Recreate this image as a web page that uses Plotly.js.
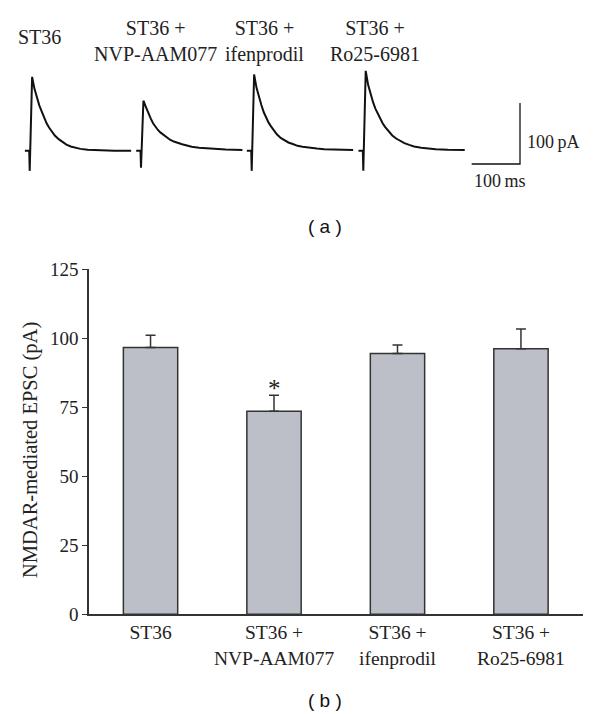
<!DOCTYPE html>
<html>
<head>
<meta charset="utf-8">
<script src="https://cdn.plot.ly/plotly-3.0.1.min.js"></script>
<style>
  html, body { margin: 0; padding: 0; background: #fff; }
  #chart { width: 600px; height: 714px; }
</style>
</head>
<body>
<div id="chart"></div>
<script>
const categories = ['ST36', 'ST36 +<br>NVP-AAM077', 'ST36 +<br>ifenprodil', 'ST36 +<br>Ro25-6981'];
const epscMean = [96.7, 73.6, 94.5, 96.2];
const epscSem = [4.4, 5.8, 3.1, 7.2];
const significant = [false, true, false, false];

// example traces: ms from stimulus, pA above baseline
const traceTime = [-10, -1, 0, 5, 10, 15, 20, 25, 30, 35, 40, 45, 52, 60, 68, 76, 85, 95, 105, 120, 135, 150, 175, 210];
const traceSt36 = [0, 0, -33, 121, 101, 86, 74, 64, 54, 45, 38, 32, 25, 19, 14, 10, 7, 4.5, 3, 1.5, 1, 0.5, 0, 0];
const traceNvp = [0, 0, -28, 82, 72, 61, 53, 45, 39, 34, 30, 27, 22, 18, 15, 12.5, 10.5, 8.5, 6.5, 5, 4, 3, 2, 1];
const traceIfen = [0, 0, -33, 125, 103, 87, 75, 63, 54, 46, 40, 34, 27, 21, 17, 13.5, 11, 8, 6.5, 4.5, 3.5, 2.5, 1.5, 1];
const traceRo = [0, 0, -33, 131, 108, 93, 80, 69, 60, 52, 45, 39, 32, 25, 20, 16, 12.5, 9.5, 7, 5, 3.5, 2.5, 1.5, 1];
const scaleBarMs = 100;
const scaleBarPa = 100;

const W = 600;
const H = 714;
const px = p => p / W;
const py = p => 1 - p / H;

const serif = 'Liberation Serif, Times New Roman, serif';
const ink = '#222';

const msPx = 0.483; // px per ms in panel a
const stimPx = [29.7, 141, 251.7, 363.3];
const labelMs = [21, 30, 27, 25];
const tMin = -12;
const tMax = 213;
const traces = [traceSt36, traceNvp, traceIfen, traceRo];

const data = [];
const layout = {
  width: W,
  height: H,
  margin: { l: 0, r: 0, t: 0, b: 0 },
  paper_bgcolor: '#fff',
  plot_bgcolor: 'rgba(0,0,0,0)',
  showlegend: false,
  font: { family: serif, size: 19, color: ink },
  yaxis: {
    domain: [py(180), py(60)],
    range: [-48, 148.7],
    visible: false,
    anchor: 'x',
  },
  annotations: [],
};

traces.forEach((y, i) => {
  const n = i === 0 ? '' : i + 1;
  data.push({
    x: traceTime,
    y,
    xaxis: `x${n}`,
    yaxis: 'y',
    type: 'scatter',
    mode: 'lines',
    line: { color: '#111', width: 2 },
    hoverinfo: 'skip',
  });
  layout[`xaxis${n}`] = {
    domain: [px(stimPx[i] + tMin * msPx), px(stimPx[i] + tMax * msPx)],
    range: [tMin, tMax],
    visible: false,
    anchor: 'y',
  };
  const twoLines = categories[i].includes('<br>');
  layout.annotations.push({
    text: categories[i],
    xref: `x${n}`,
    yref: 'paper',
    x: labelMs[i],
    y: py(twoLines ? 41 : 37),
    xanchor: 'center',
    yanchor: 'middle',
    showarrow: false,
    font: { family: serif, size: 20, color: ink },
  });
});

// scale bar
const barBase = -21.8;
data.push({
  x: [0, scaleBarMs, scaleBarMs],
  y: [barBase, barBase, barBase + scaleBarPa],
  xaxis: 'x5',
  yaxis: 'y',
  type: 'scatter',
  mode: 'lines',
  line: { color: '#111', width: 1.3 },
  hoverinfo: 'skip',
});
layout.xaxis5 = {
  domain: [px(471.7 - 5 * msPx), px(471.7 + 105 * msPx)],
  range: [-5, 105],
  visible: false,
  anchor: 'y',
};
layout.annotations.push({
  text: `${scaleBarPa}\u2009pA`,
  xref: 'x5', yref: 'y',
  x: scaleBarMs, y: 14,
  xanchor: 'left', yanchor: 'middle', xshift: 5,
  showarrow: false,
  font: { family: serif, size: 18, color: ink },
});
layout.annotations.push({
  text: `${scaleBarMs}\u2009ms`,
  xref: 'x5', yref: 'y',
  x: 0, y: barBase,
  xanchor: 'left', yanchor: 'top', yshift: -5,
  showarrow: false,
  font: { family: serif, size: 18, color: ink },
});

// panel b
data.push({
  x: categories,
  y: epscMean,
  xaxis: 'x6',
  yaxis: 'y2',
  type: 'bar',
  width: 0.44,
  marker: { color: '#bcbfc7', line: { color: '#333', width: 1.5 } },
  error_y: {
    type: 'data',
    symmetric: false,
    array: epscSem,
    arrayminus: epscSem.map(() => 0),
    color: '#333',
    thickness: 1.5,
    width: 5,
  },
  hoverinfo: 'skip',
});
layout.xaxis6 = {
  domain: [px(88.8), px(582.7)],
  range: [-0.5, 3.5],
  type: 'category',
  anchor: 'y2',
  showline: true,
  linecolor: '#333',
  linewidth: 1.5,
  ticks: '',
  showgrid: false,
  zeroline: false,
  tickfont: { family: serif, size: 19.5, color: ink },
  automargin: false,
};
layout.yaxis2 = {
  domain: [py(614.3), py(269.3)],
  range: [0, 125],
  dtick: 25,
  anchor: 'x6',
  showline: true,
  linecolor: '#333',
  linewidth: 1.5,
  ticks: 'outside',
  ticklen: 5,
  tickcolor: '#333',
  showgrid: false,
  zeroline: false,
  tickfont: { family: serif, size: 19, color: ink },
  automargin: false,
};

significant.forEach((s, i) => {
  if (!s) return;
  layout.annotations.push({
    text: '*',
    xref: 'x6', yref: 'y2',
    x: categories[i], y: epscMean[i] + epscSem[i],
    xanchor: 'center', yanchor: 'bottom', yshift: -9,
    showarrow: false,
    font: { family: serif, size: 25, color: ink },
  });
});

layout.annotations.push({
  text: 'NMDAR-mediated EPSC (pA)',
  xref: 'paper', yref: 'paper',
  x: px(30), y: py(450),
  textangle: -90,
  xanchor: 'center', yanchor: 'middle',
  showarrow: false,
  font: { family: serif, size: 20.5, color: ink },
});

['( a )', '( b )'].forEach((t, i) => {
  layout.annotations.push({
    text: t,
    xref: 'paper', yref: 'paper',
    x: px(325), y: py(i === 0 ? 226.7 : 700),
    xanchor: 'center', yanchor: 'middle',
    showarrow: false,
    font: { family: 'Liberation Sans, Arial, sans-serif', size: 19, color: '#111' },
  });
});

Plotly.newPlot('chart', data, layout, { staticPlot: true });
</script>
</body>
</html>
